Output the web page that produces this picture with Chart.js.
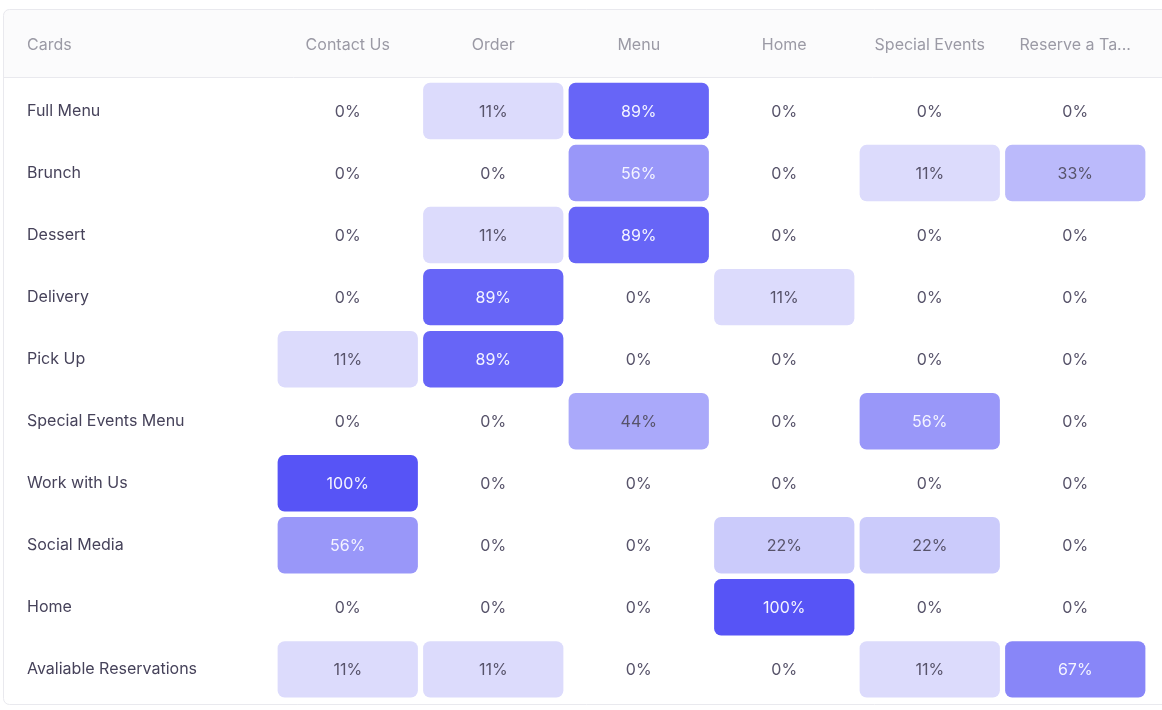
<!DOCTYPE html>
<html>
<head>
<meta charset="utf-8">
<title>Cards heatmap</title>
<script src="https://cdn.jsdelivr.net/npm/chart.js@4.4.1/dist/chart.umd.min.js"></script>
<style>
    html, body { margin: 0; padding: 0; background: #ffffff; }
    #wrap { position: relative; width: 1162px; height: 710px; }
</style>
</head>
<body>
<div id="wrap"><canvas id="heatmap"></canvas></div>
<script>
// rows (cards) and columns (destinations)
var cards = [
    "Full Menu",
    "Brunch",
    "Dessert",
    "Delivery",
    "Pick Up",
    "Special Events Menu",
    "Work with Us",
    "Social Media",
    "Home",
    "Avaliable Reservations"
];
var columns = ["Contact Us", "Order", "Menu", "Home", "Special Events", "Reserve a Ta..."];

// percentage per card, one array per column
var contactUs     = [0, 0, 0, 0, 11, 0, 100, 56, 0, 11];
var order         = [11, 0, 11, 89, 89, 0, 0, 0, 0, 11];
var menu          = [89, 56, 89, 0, 0, 44, 0, 0, 0, 0];
var home          = [0, 0, 0, 11, 0, 0, 0, 22, 100, 0];
var specialEvents = [0, 11, 0, 0, 0, 56, 0, 22, 0, 11];
var reserveTable  = [0, 33, 0, 0, 0, 0, 0, 0, 0, 67];

var series = [contactUs, order, menu, home, specialEvents, reserveTable];

var FONT = "Inter, 'Noto Sans', sans-serif";

// colour scale: light lavender -> strong indigo
function cellColor(v) {
    var lo = [236, 236, 253], hi = [87, 84, 246];
    var t = v / 100;
    var c = lo.map(function(a, i) { return Math.round(a + (hi[i] - a) * t); });
    return "rgb(" + c.join(",") + ")";
}

var datasets = series.map(function(values, col) {
    return {
        label: columns[col],
        data: values.map(function(v) { return v > 0 ? [col - 0.482, col + 0.482] : null; }),
        backgroundColor: values.map(cellColor),
        borderRadius: 7,
        borderSkipped: false,
        grouped: false,
        categoryPercentage: 1,
        barPercentage: 0.91
    };
});

// card frame + header band
var cardFrame = {
    id: "cardFrame",
    beforeDraw: function(chart) {
        var ctx = chart.ctx;
        ctx.save();
        ctx.fillStyle = "#ffffff";
        ctx.fillRect(0, 0, chart.width, chart.height);
        ctx.beginPath();
        ctx.roundRect(3.5, 9.5, chart.width + 20, 695, 6);
        ctx.fillStyle = "#ffffff";
        ctx.fill();
        ctx.save();
        ctx.clip();
        ctx.fillStyle = "#fbfbfc";
        ctx.fillRect(0, 9, chart.width, 68);
        ctx.restore();
        ctx.strokeStyle = "#e9e9ee";
        ctx.lineWidth = 1;
        ctx.stroke();
        ctx.beginPath();
        ctx.moveTo(4, 77.5);
        ctx.lineTo(chart.width, 77.5);
        ctx.stroke();
        // corner header
        ctx.fillStyle = "#9b9aa5";
        ctx.font = "16px " + FONT;
        ctx.textBaseline = "middle";
        ctx.textAlign = "left";
        ctx.fillText("Cards", 27, 45);
        ctx.restore();
    }
};

// percentage text in every cell
var cellLabels = {
    id: "cellLabels",
    afterDatasetsDraw: function(chart) {
        var ctx = chart.ctx;
        var x = chart.scales.x, y = chart.scales.y;
        ctx.save();
        ctx.font = "16px " + FONT;
        ctx.textAlign = "center";
        ctx.textBaseline = "middle";
        series.forEach(function(values, col) {
            values.forEach(function(v, row) {
                ctx.fillStyle = v >= 50 ? "#f4f4ff" : "#57536a";
                ctx.fillText(v + "%", x.getPixelForValue(col), y.getPixelForValue(row) + 1);
            });
        });
        ctx.restore();
    }
};

new Chart(document.getElementById("heatmap").getContext("2d"), {
    type: "bar",
    data: { labels: cards, datasets: datasets },
    options: {
        indexAxis: "y",
        responsive: true,
        maintainAspectRatio: false,
        animation: false,
        events: [],
        layout: { padding: { left: 27, top: 0, right: 14, bottom: 9 } },
        plugins: { legend: { display: false }, tooltip: { enabled: false } },
        scales: {
            x: {
                type: "linear",
                position: "top",
                min: -0.5,
                max: 5.5,
                afterBuildTicks: function(scale) {
                    scale.ticks = columns.map(function(c, i) { return { value: i }; });
                },
                afterFit: function(scale) { scale.height = 80; },
                ticks: {
                    padding: 25,
                    color: "#9b9aa5",
                    font: { family: FONT, size: 16 },
                    maxRotation: 0,
                    autoSkip: false,
                    callback: function(v) { return columns[v]; }
                },
                grid: { display: false, drawTicks: false },
                border: { display: false }
            },
            y: {
                type: "category",
                afterFit: function(scale) { scale.width = 248; },
                ticks: {
                    crossAlign: "far",
                    padding: 0,
                    color: "#46425a",
                    font: { family: FONT, size: 16 }
                },
                grid: { display: false, drawTicks: false },
                border: { display: false }
            }
        }
    },
    plugins: [cardFrame, cellLabels]
});
</script>
</body>
</html>
